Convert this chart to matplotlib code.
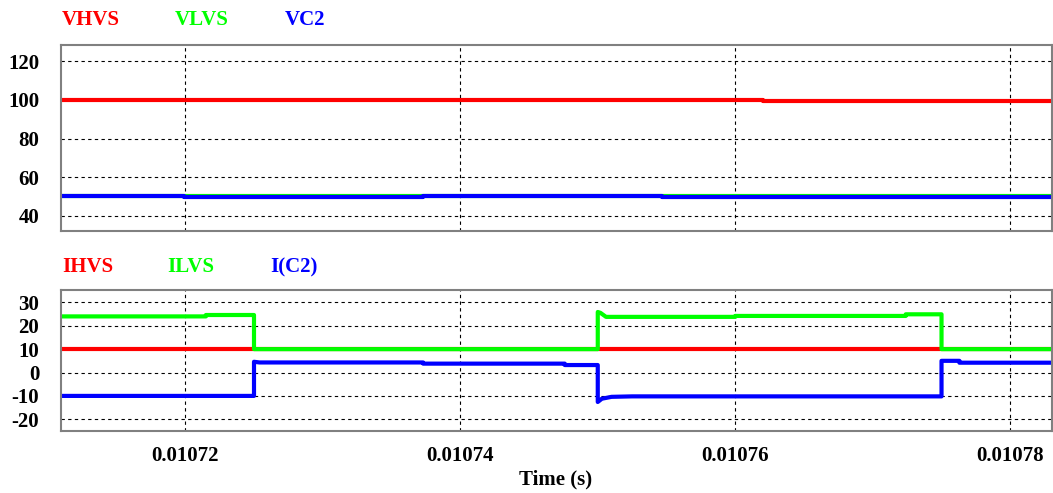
import matplotlib
matplotlib.use("Agg")
import matplotlib.pyplot as plt

# voltages (top panel): step-wise samples, time in seconds
t_vhvs = [0.010711, 0.010762, 0.010762, 0.010783]
vhvs = [100.0, 100.0, 99.5, 99.5]

t_vlvs = [0.010711, 0.010783]
vlvs = [50.4, 50.4]

t_vc2 = [0.010711, 0.0107199, 0.0107199, 0.0107373, 0.0107373, 0.0107547, 0.0107547, 0.010783]
vc2 = [50.2, 50.2, 49.8, 49.8, 50.2, 50.2, 49.8, 49.8]

# currents (bottom panel)
t_ihvs = [0.010711, 0.010783]
ihvs = [10.0, 10.0]

t_ilvs = [0.010711, 0.0107215, 0.0107215, 0.010725, 0.010725, 0.01075, 0.01075, 0.0107502,
          0.0107506, 0.01076, 0.01076, 0.0107724, 0.0107724, 0.010775, 0.010775, 0.010783]
ilvs = [24.0, 24.0, 24.6, 24.6, 10.0, 10.0, 25.9, 25.5,
        23.8, 23.8, 24.2, 24.2, 24.9, 24.9, 10.0, 10.0]

t_ic2 = [0.010711, 0.010725, 0.010725, 0.0107254, 0.0107373, 0.0107373, 0.0107476, 0.0107476,
         0.01075, 0.01075, 0.0107503, 0.0107510, 0.0107525, 0.010775, 0.010775, 0.0107763,
         0.0107763, 0.010783]
ic2 = [-10.0, -10.0, 4.6, 4.3, 4.3, 3.8, 3.8, 3.2,
       3.2, -12.6, -11.2, -10.4, -10.2, -10.2, 5.0, 5.0,
       4.2, 4.2]

xticks = [0.01072, 0.01074, 0.01076, 0.01078]
xtick_labels = ["0.01072", "0.01074", "0.01076", "0.01078"]
top_yticks = [40, 60, 80, 100, 120]
bot_yticks = [-20, -10, 0, 10, 20, 30]

RED, GREEN, BLUE = "#ff0000", "#00ff00", "#0000ff"

plt.rcParams["font.family"] = ["Liberation Serif", "DejaVu Serif"]
plt.rcParams["font.weight"] = "bold"

fig = plt.figure(figsize=(10.53, 4.93), dpi=100)
ax1 = fig.add_axes([0.0584, 0.5314, 0.9402, 0.3783])
ax2 = fig.add_axes([0.0584, 0.1258, 0.9402, 0.2860])

ax1.plot(t_vhvs, vhvs, color=RED, lw=3)
ax1.plot(t_vlvs, vlvs, color=GREEN, lw=3)
ax1.plot(t_vc2, vc2, color=BLUE, lw=3)

ax2.plot(t_ihvs, ihvs, color=RED, lw=3)
ax2.plot(t_ilvs, ilvs, color=GREEN, lw=3)
ax2.plot(t_ic2, ic2, color=BLUE, lw=3)

for ax, yt, ylim in [(ax1, top_yticks, (32.2, 128.6)), (ax2, bot_yticks, (-25.0, 35.3))]:
    ax.set_xlim(0.010711, 0.010783)
    ax.set_ylim(*ylim)
    ax.set_xticks(xticks)
    ax.set_yticks(yt)
    ax.set_yticklabels([str(v) for v in yt], fontsize=15, fontweight="bold")
    ax.grid(True, color="black", lw=0.8, linestyle=(0, (3, 3)))
    ax.tick_params(axis="both", length=0)
    ax.tick_params(axis="y", pad=16)
    for s in ax.spines.values():
        s.set_color("#808080")
        s.set_linewidth(1.5)

ax1.set_xticklabels([])
ax2.set_xticklabels(xtick_labels, fontsize=15, fontweight="bold")
ax2.tick_params(axis="x", pad=11)

# legend-style labels above each panel
fig.text(62 / 1053, 1 - 20 / 493, "VHVS", color=RED, fontsize=15, fontweight="bold", va="center")
fig.text(175 / 1053, 1 - 20 / 493, "VLVS", color=GREEN, fontsize=15, fontweight="bold", va="center")
fig.text(285 / 1053, 1 - 20 / 493, "VC2", color=BLUE, fontsize=15, fontweight="bold", va="center")
fig.text(62 / 1053, 1 - 267 / 493, "IHVS", color=RED, fontsize=15, fontweight="bold", va="center")
fig.text(167 / 1053, 1 - 267 / 493, "ILVS", color=GREEN, fontsize=15, fontweight="bold", va="center")
fig.text(270 / 1053, 1 - 267 / 493, "I(C2)", color=BLUE, fontsize=15, fontweight="bold", va="center")

fig.text(556 / 1053, 1 - 479 / 493, "Time (s)", fontsize=15, fontweight="bold", ha="center", va="center")

fig.savefig("out.png", dpi=100)
